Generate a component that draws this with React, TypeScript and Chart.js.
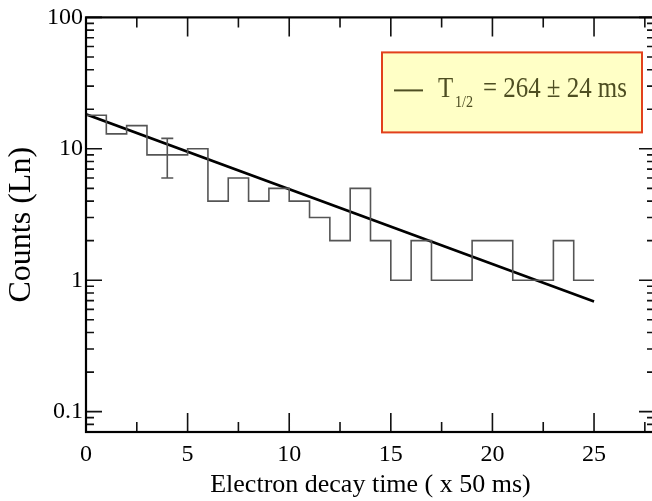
import React, { useEffect, useRef } from 'react';
import { Chart, registerables } from 'chart.js';
Chart.register(...registerables);

// ---- data ----
const binEdges = [0, 1, 2, 3, 4, 5, 6, 7, 8, 9, 10, 11, 12, 13, 14, 15, 16, 17, 18, 19, 20, 21, 22, 23, 24, 25];
const counts = [18, 13, 15, 9, 9, 10, 4, 6, 4, 5, 4, 3, 2, 5, 2, 1, 2, 1, 1, 2, 2, 1, 1, 2, 1];
const fitX = [0, 25];
const fitY = [18.3, 0.69];
const errX = [4];
const errLow = [6];
const errHigh = [12];
const xTickLabels = [0, 5, 10, 15, 20, 25];
const xMinorTicks = [2.5, 7.5, 12.5, 17.5, 22.5, 27.5];
const yTickLabels = [0.1, 1, 10, 100];
const yMinorTicks = [0.07, 0.08, 0.09, 0.2, 0.3, 0.4, 0.5, 0.6, 0.7, 0.8, 0.9, 2, 3, 4, 5, 6, 7, 8, 9, 20, 30, 40, 50, 60, 70, 80, 90];
const xTitle = 'Electron decay time ( x 50 ms)';
const yTitle = 'Counts (Ln)';
const legendMain = 'T';
const legendSub = '1/2';
const legendRest = '= 264 ± 24 ms';

const FONT = '"Liberation Serif", "Times New Roman", serif';

const framePlugin = {
  id: 'frameTicks',
  afterDatasetsDraw(chart: any) {
    const { ctx, chartArea: a, scales } = chart;
    const xs = scales.x;
    const ys = scales.y;
    ctx.save();
    // error bar
    ctx.strokeStyle = '#555';
    ctx.lineWidth = 1.6;
    errX.forEach((xv, i) => {
      const px = xs.getPixelForValue(xv);
      const pl = ys.getPixelForValue(errLow[i]);
      const ph = ys.getPixelForValue(errHigh[i]);
      ctx.beginPath();
      ctx.moveTo(px, pl);
      ctx.lineTo(px, ph);
      ctx.moveTo(px - 6, pl);
      ctx.lineTo(px + 6, pl);
      ctx.moveTo(px - 6, ph);
      ctx.lineTo(px + 6, ph);
      ctx.stroke();
    });
    // ticks
    ctx.strokeStyle = '#111';
    ctx.lineWidth = 1.6;
    ctx.beginPath();
    xTickLabels.forEach((v) => {
      const px = xs.getPixelForValue(v);
      ctx.moveTo(px, a.bottom); ctx.lineTo(px, a.bottom - 19);
      ctx.moveTo(px, a.top); ctx.lineTo(px, a.top + 19);
    });
    xMinorTicks.forEach((v) => {
      const px = xs.getPixelForValue(v);
      ctx.moveTo(px, a.bottom); ctx.lineTo(px, a.bottom - 10);
      ctx.moveTo(px, a.top); ctx.lineTo(px, a.top + 10);
    });
    yTickLabels.forEach((v) => {
      const py = ys.getPixelForValue(v);
      ctx.moveTo(a.left, py); ctx.lineTo(a.left + 16, py);
      ctx.moveTo(a.right, py); ctx.lineTo(a.right - 16, py);
    });
    yMinorTicks.forEach((v) => {
      const py = ys.getPixelForValue(v);
      ctx.moveTo(a.left, py); ctx.lineTo(a.left + 8, py);
      ctx.moveTo(a.right, py); ctx.lineTo(a.right - 8, py);
    });
    ctx.stroke();
    // frame
    ctx.strokeStyle = '#000';
    ctx.lineWidth = 2.2;
    ctx.strokeRect(a.left, a.top, a.right - a.left, a.bottom - a.top);

    // legend box
    const bx = a.right - 273;
    const by = a.top + 35;
    const bw = 260;
    const bh = 80;
    ctx.fillStyle = '#ffffc6';
    ctx.fillRect(bx, by, bw, bh);
    ctx.strokeStyle = '#e2401c';
    ctx.lineWidth = 2;
    ctx.strokeRect(bx, by, bw, bh);
    const olive = '#4e4e22';
    ctx.strokeStyle = olive;
    ctx.lineWidth = 2;
    ctx.beginPath();
    ctx.moveTo(bx + 12, by + 38);
    ctx.lineTo(bx + 41, by + 38);
    ctx.stroke();
    ctx.fillStyle = olive;
    ctx.textBaseline = 'alphabetic';
    ctx.textAlign = 'left';
    const piece = (t: string, x: number, y: number, size: number) => {
      ctx.save();
      ctx.translate(x, y);
      ctx.scale(0.83, 1);
      ctx.font = `${size}px ${FONT}`;
      ctx.fillText(t, 0, 0);
      ctx.restore();
    };
    piece(legendMain, bx + 56, by + 45, 30);
    piece(legendSub, bx + 73, by + 55, 17);
    piece(legendRest, bx + 101, by + 45, 30);
    ctx.restore();
  },
};

export default function App() {
  const ref = useRef<HTMLCanvasElement | null>(null);
  useEffect(() => {
    if (!ref.current) return;
    const histData = binEdges.map((e, i) => ({ x: e, y: counts[Math.min(i, counts.length - 1)] }));
    const fitData = fitX.map((x, i) => ({ x, y: fitY[i] }));
    const chart = new Chart(ref.current, {
      type: 'line',
      data: {
        datasets: [
          {
            data: histData,
            stepped: 'before',
            borderColor: '#555',
            borderWidth: 1.6,
            pointRadius: 0,
            fill: false,
          },
          {
            data: fitData,
            borderColor: '#000',
            borderWidth: 2.6,
            pointRadius: 0,
            fill: false,
          },
        ],
      },
      options: {
        responsive: false,
        animation: false,
        devicePixelRatio: 1,
        layout: { padding: { top: 17, right: 5, left: 0, bottom: 0 } },
        plugins: { legend: { display: false }, tooltip: { enabled: false } },
        scales: {
          x: {
            type: 'linear',
            min: 0,
            max: 28,
            grid: { display: false, drawTicks: false },
            border: { display: false },
            afterBuildTicks: (s: any) => {
              s.ticks = xTickLabels.map((v) => ({ value: v }));
            },
            afterFit: (s: any) => {
              s.height = 69;
            },
            ticks: {
              font: { family: FONT, size: 24 },
              color: '#000',
              padding: 8,
              maxRotation: 0,
              autoSkip: false,
            },
            title: {
              display: true,
              text: xTitle,
              color: '#000',
              font: { family: FONT, size: 26, lineHeight: 1.2 },
              padding: { top: 0, bottom: 0 },
            },
          },
          y: {
            type: 'logarithmic',
            min: 0.07,
            max: 100,
            grid: { display: false, drawTicks: false },
            border: { display: false },
            afterBuildTicks: (s: any) => {
              s.ticks = yTickLabels.map((v) => ({ value: v }));
            },
            afterFit: (s: any) => {
              s.width = 86;
            },
            ticks: {
              font: { family: FONT, size: 24 },
              color: '#000',
              padding: 3,
              autoSkip: false,
              callback: (v: any) => String(v),
            },
            title: {
              display: true,
              text: yTitle,
              color: '#000',
              font: { family: FONT, size: 32, lineHeight: 1.2 },
              padding: { top: 2, bottom: 0 },
            },
          },
        },
      },
      plugins: [framePlugin],
    });
    return () => chart.destroy();
  }, []);
  return (
    <div style={{ position: 'absolute', left: 0, top: 0, width: 652, height: 501, overflow: 'hidden', background: '#fff' }}>
      <canvas ref={ref} width={660} height={501} style={{ display: 'block' }} />
    </div>
  );
}
